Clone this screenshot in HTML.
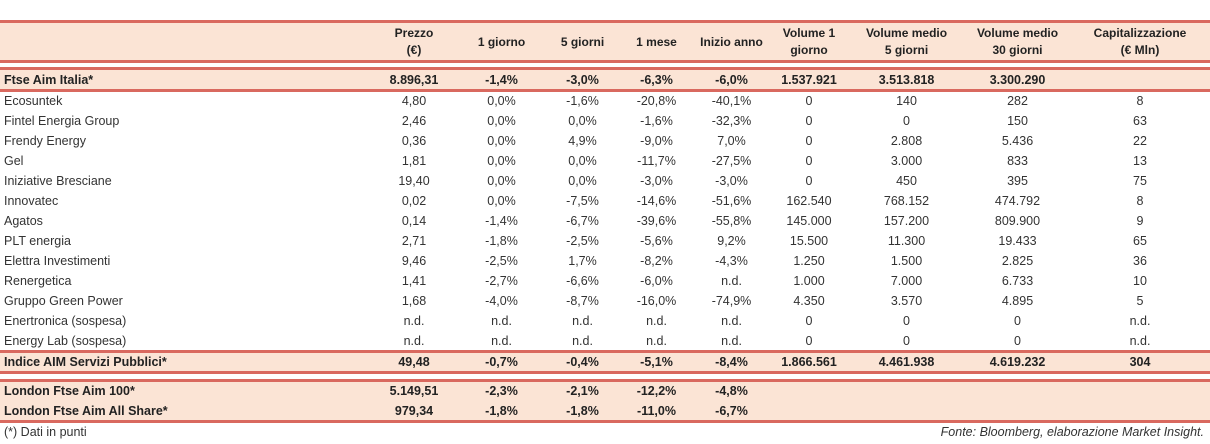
<!DOCTYPE html>
<html><head><meta charset="utf-8">
<style>
body{margin:0;width:1210px;height:444px;background:#fff;position:relative;overflow:hidden;font-family:"Liberation Sans",sans-serif;color:#333;}
.band{position:absolute;left:0;width:1210px;background:#fbe4d5;}
.ln{position:absolute;left:0;width:1210px;height:3px;background:#d9695f;}
.row{position:absolute;left:0;width:1210px;height:20px;line-height:20px;display:grid;grid-template-columns:370px 88px 87px 75px 73px 77px 78px 117px 105px 140px;font-size:12.5px;}
.row span{text-align:center;white-space:nowrap}
.row span:first-child{text-align:left;padding-left:4px}
.b{font-weight:bold;color:#222}
.hdr{position:absolute;left:0;top:24px;width:1210px;height:36px;display:grid;grid-template-columns:370px 88px 87px 75px 73px 77px 78px 117px 105px 140px;font-size:12px;font-weight:bold;color:#222;line-height:17px;}
.hdr span{text-align:center;display:flex;align-items:center;justify-content:center}
.foot{position:absolute;top:425px;font-size:12.5px;color:#333}
</style></head><body>
<div class="band" style="top:21px;height:42px"></div>
<div class="ln" style="top:20px"></div>
<div class="ln" style="top:60px"></div>
<div class="hdr">
<span></span><span>Prezzo<br>(€)</span><span>1 giorno</span><span>5 giorni</span><span>1 mese</span><span>Inizio anno</span><span>Volume 1<br>giorno</span><span>Volume medio<br>5 giorni</span><span>Volume medio<br>30 giorni</span><span>Capitalizzazione<br>(€ Mln)</span>
</div>

<div class="band" style="top:69px;height:21px"></div>
<div class="ln" style="top:67px"></div>
<div class="ln" style="top:89px"></div>
<div class="row b" style="top:70px"><span>Ftse Aim Italia*</span><span>8.896,31</span><span>-1,4%</span><span>-3,0%</span><span>-6,3%</span><span>-6,0%</span><span>1.537.921</span><span>3.513.818</span><span>3.300.290</span><span></span></div>

<div class="row" style="top:91px"><span>Ecosuntek</span><span>4,80</span><span>0,0%</span><span>-1,6%</span><span>-20,8%</span><span>-40,1%</span><span>0</span><span>140</span><span>282</span><span>8</span></div>
<div class="row" style="top:111px"><span>Fintel Energia Group</span><span>2,46</span><span>0,0%</span><span>0,0%</span><span>-1,6%</span><span>-32,3%</span><span>0</span><span>0</span><span>150</span><span>63</span></div>
<div class="row" style="top:131px"><span>Frendy Energy</span><span>0,36</span><span>0,0%</span><span>4,9%</span><span>-9,0%</span><span>7,0%</span><span>0</span><span>2.808</span><span>5.436</span><span>22</span></div>
<div class="row" style="top:151px"><span>Gel</span><span>1,81</span><span>0,0%</span><span>0,0%</span><span>-11,7%</span><span>-27,5%</span><span>0</span><span>3.000</span><span>833</span><span>13</span></div>
<div class="row" style="top:171px"><span>Iniziative Bresciane</span><span>19,40</span><span>0,0%</span><span>0,0%</span><span>-3,0%</span><span>-3,0%</span><span>0</span><span>450</span><span>395</span><span>75</span></div>
<div class="row" style="top:191px"><span>Innovatec</span><span>0,02</span><span>0,0%</span><span>-7,5%</span><span>-14,6%</span><span>-51,6%</span><span>162.540</span><span>768.152</span><span>474.792</span><span>8</span></div>
<div class="row" style="top:211px"><span>Agatos</span><span>0,14</span><span>-1,4%</span><span>-6,7%</span><span>-39,6%</span><span>-55,8%</span><span>145.000</span><span>157.200</span><span>809.900</span><span>9</span></div>
<div class="row" style="top:231px"><span>PLT energia</span><span>2,71</span><span>-1,8%</span><span>-2,5%</span><span>-5,6%</span><span>9,2%</span><span>15.500</span><span>11.300</span><span>19.433</span><span>65</span></div>
<div class="row" style="top:251px"><span>Elettra Investimenti</span><span>9,46</span><span>-2,5%</span><span>1,7%</span><span>-8,2%</span><span>-4,3%</span><span>1.250</span><span>1.500</span><span>2.825</span><span>36</span></div>
<div class="row" style="top:271px"><span>Renergetica</span><span>1,41</span><span>-2,7%</span><span>-6,6%</span><span>-6,0%</span><span>n.d.</span><span>1.000</span><span>7.000</span><span>6.733</span><span>10</span></div>
<div class="row" style="top:291px"><span>Gruppo Green Power</span><span>1,68</span><span>-4,0%</span><span>-8,7%</span><span>-16,0%</span><span>-74,9%</span><span>4.350</span><span>3.570</span><span>4.895</span><span>5</span></div>
<div class="row" style="top:311px"><span>Enertronica (sospesa)</span><span>n.d.</span><span>n.d.</span><span>n.d.</span><span>n.d.</span><span>n.d.</span><span>0</span><span>0</span><span>0</span><span>n.d.</span></div>
<div class="row" style="top:331px"><span>Energy Lab (sospesa)</span><span>n.d.</span><span>n.d.</span><span>n.d.</span><span>n.d.</span><span>n.d.</span><span>0</span><span>0</span><span>0</span><span>n.d.</span></div>

<div class="band" style="top:351px;height:21px"></div>
<div class="ln" style="top:350px"></div>
<div class="ln" style="top:371px"></div>
<div class="row b" style="top:352px"><span>Indice AIM Servizi Pubblici*</span><span>49,48</span><span>-0,7%</span><span>-0,4%</span><span>-5,1%</span><span>-8,4%</span><span>1.866.561</span><span>4.461.938</span><span>4.619.232</span><span>304</span></div>

<div class="band" style="top:380px;height:41px"></div>
<div class="ln" style="top:379px"></div>
<div class="ln" style="top:420px"></div>
<div class="row b" style="top:381px"><span>London Ftse Aim 100*</span><span>5.149,51</span><span>-2,3%</span><span>-2,1%</span><span>-12,2%</span><span>-4,8%</span><span></span><span></span><span></span><span></span></div>
<div class="row b" style="top:401px"><span>London Ftse Aim All Share*</span><span>979,34</span><span>-1,8%</span><span>-1,8%</span><span>-11,0%</span><span>-6,7%</span><span></span><span></span><span></span><span></span></div>

<div class="foot" style="left:4px">(*) Dati in punti</div>
<div class="foot" style="right:6px;font-style:italic">Fonte: Bloomberg, elaborazione Market Insight.</div>
</body></html>
